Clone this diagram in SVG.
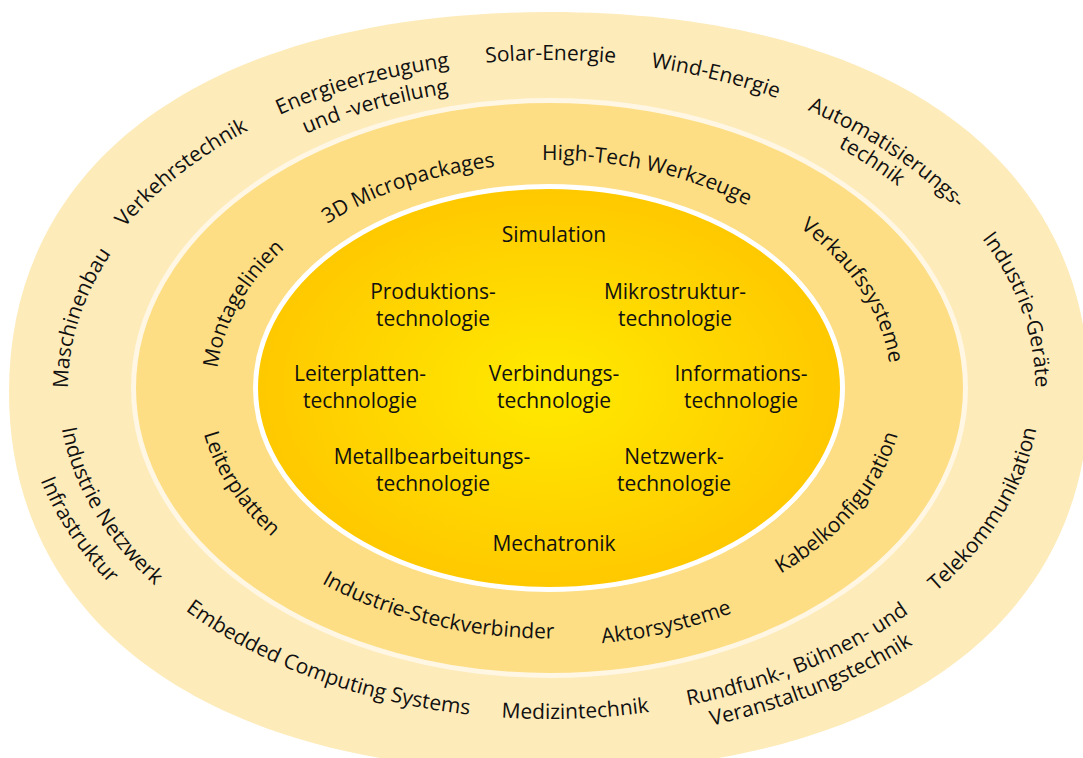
<svg xmlns="http://www.w3.org/2000/svg" width="1083" height="758" viewBox="0 0 1083 758">
<style>
text { font-family: "Open Sans", "Liberation Sans", sans-serif; font-size: 21px; font-weight: 500; fill: #111111; }
.c { text-anchor: middle; }
.band-outer { fill: #FEEBBA; }
.band-mid { fill: #FDDE85; stroke: #FFF7E3; stroke-width: 5; }
.core { fill: url(#core); stroke: #FFFFFF; stroke-width: 5; }
</style>
<defs>
<radialGradient id="core" gradientUnits="userSpaceOnUse" cx="549" cy="388" r="296" gradientTransform="translate(549 388) scale(1 0.69) translate(-549 -388)">
<stop offset="0" stop-color="#FFEA00"/>
<stop offset="1" stop-color="#FFC800"/>
</radialGradient>
<path id="p1" d="M70.71,422.35 A481,324.3 0 0 1 132.11,226.24"/>
<path id="p2" d="M97.67,265.71 A486.4,328 0 0 1 290.44,110.18"/>
<path id="p3" d="M229.27,140.83 A486.4,328 0 0 1 505.85,61.29"/>
<path id="p4" d="M253.07,160.89 A448.3,302.3 0 0 1 507.59,86.99"/>
<path id="p5" d="M424.75,70.88 A486.4,328 0 0 1 676.53,71.47"/>
<path id="p6" d="M593.85,61.40 A486.4,328 0 0 1 830.01,120.28"/>
<path id="p7" d="M769.96,95.79 A486.4,328 0 0 1 982.46,239.18"/>
<path id="p8" d="M796.31,127.03 A459.3,309.7 0 0 1 932.33,217.39"/>
<path id="p9" d="M956.12,208.51 A486.4,328 0 0 1 1031.96,426.95"/>
<path id="p10" d="M448.25,711.96 A491,331 0 0 0 702.01,702.52"/>
<path id="p11" d="M156.74,587.09 A491,331 0 0 0 505.95,717.73"/>
<path id="p12" d="M652.67,711.54 A491,331 0 0 0 936.92,590.91"/>
<path id="p13" d="M653.24,735.97 A526.5,355 0 0 0 960.61,609.36"/>
<path id="p14" d="M902.90,617.44 A491,331 0 0 0 1040,387.31"/>
<path id="p15" d="M58.06,382.92 A491,331 0 0 0 190.59,614.24"/>
<path id="p16" d="M24.96,422.27 A526.5,355 0 0 0 155.04,623.51"/>
<path id="p17" d="M216.85,402.29 A332.8,229.5 0 0 1 311.33,227.35"/>
<path id="p18" d="M296.95,246.41 A325.1,224.2 0 0 1 532.89,164.08"/>
<path id="p19" d="M504.53,162.07 A330.6,228 0 0 1 779.77,224.74"/>
<path id="p20" d="M778.91,213.08 A342.3,236.1 0 0 1 891.3,388.78"/>
<path id="p21" d="M197.74,394.81 A351.4,242.4 0 0 0 303.15,561.19"/>
<path id="p22" d="M290.62,563.88 A363,250.4 0 0 0 590.85,636.73"/>
<path id="p23" d="M555.98,645.86 A373.9,257.9 0 0 0 774.45,593.74"/>
<path id="p24" d="M751.44,589.34 A355.3,245 0 0 0 903.72,401.97"/>
</defs>
<rect width="1083" height="758" fill="#FFFFFF"/>
<g id="ring-outer">
<path class="band-outer" d="M9,392 C9,156.4 214.2,12 549,12 C883.8,12 1089,156.4 1089,392 C1089,627.6 883.8,772 549,772 C214.2,772 9,627.6 9,392 Z"/>
</g>
<g id="ring-middle">
<ellipse class="band-mid" cx="549.5" cy="388" rx="416" ry="287.5"/>
</g>
<g id="ring-core">
<ellipse class="core" cx="549" cy="388" rx="293.5" ry="201.5"/>
</g>
<g id="outer-labels">
<g id="maschinenbau"><text><textPath href="#p1" startOffset="50%" class="c">Maschinenbau</textPath></text></g>
<g id="verkehrstechnik"><text><textPath href="#p2" startOffset="50%" class="c">Verkehrstechnik</textPath></text></g>
<g id="energie"><text><textPath href="#p3" startOffset="50%" class="c">Energieerzeugung</textPath></text><text><textPath href="#p4" startOffset="50%" class="c">und -verteilung</textPath></text></g>
<g id="solar"><text><textPath href="#p5" startOffset="50%" class="c">Solar-Energie</textPath></text></g>
<g id="wind"><text><textPath href="#p6" startOffset="50%" class="c">Wind-Energie</textPath></text></g>
<g id="automatisierung"><text><textPath href="#p7" startOffset="50%" class="c">Automatisierungs-</textPath></text><text><textPath href="#p8" startOffset="50%" class="c">technik</textPath></text></g>
<g id="industrie-geraete"><text><textPath href="#p9" startOffset="50%" class="c">Industrie-Geräte</textPath></text></g>
<g id="medizintechnik"><text><textPath href="#p10" startOffset="50%" class="c">Medizintechnik</textPath></text></g>
<g id="embedded"><text><textPath href="#p11" startOffset="50%" class="c">Embedded Computing Systems</textPath></text></g>
<g id="rundfunk"><text><textPath href="#p12" startOffset="50%" class="c">Rundfunk-, Bühnen- und</textPath></text><text><textPath href="#p13" startOffset="50%" class="c">Veranstaltungstechnik</textPath></text></g>
<g id="telekommunikation"><text><textPath href="#p14" startOffset="50%" class="c">Telekommunikation</textPath></text></g>
<g id="industrie-netzwerk"><text><textPath href="#p15" startOffset="50%" class="c">Industrie Netzwerk</textPath></text><text><textPath href="#p16" startOffset="50%" class="c">Infrastruktur</textPath></text></g>
</g>
<g id="middle-labels">
<g id="montagelinien"><text><textPath href="#p17" startOffset="50%" class="c">Montagelinien</textPath></text></g>
<g id="micropackages"><text><textPath href="#p18" startOffset="50%" class="c">3D Micropackages</textPath></text></g>
<g id="werkzeuge"><text><textPath href="#p19" startOffset="50%" class="c">High-Tech Werkzeuge</textPath></text></g>
<g id="verkaufssysteme"><text><textPath href="#p20" startOffset="50%" class="c">Verkaufssysteme</textPath></text></g>
<g id="leiterplatten"><text><textPath href="#p21" startOffset="50%" class="c">Leiterplatten</textPath></text></g>
<g id="steckverbinder"><text><textPath href="#p22" startOffset="50%" class="c">Industrie-Steckverbinder</textPath></text></g>
<g id="aktorsysteme"><text><textPath href="#p23" startOffset="50%" class="c">Aktorsysteme</textPath></text></g>
<g id="kabelkonfiguration"><text><textPath href="#p24" startOffset="50%" class="c">Kabelkonfiguration</textPath></text></g>
</g>
<g id="core-labels">
<g id="simulation"><text class="c" x="554" y="242">Simulation</text></g>
<g id="produktion"><text class="c" x="433" y="299">Produktions-</text><text class="c" x="433" y="326">technologie</text></g>
<g id="mikrostruktur"><text class="c" x="675" y="299">Mikrostruktur-</text><text class="c" x="675" y="326">technologie</text></g>
<g id="leiterplatten-tech"><text class="c" x="360" y="381">Leiterplatten-</text><text class="c" x="360" y="408">technologie</text></g>
<g id="verbindung"><text class="c" x="554" y="381">Verbindungs-</text><text class="c" x="554" y="408">technologie</text></g>
<g id="information"><text class="c" x="741" y="381">Informations-</text><text class="c" x="741" y="408">technologie</text></g>
<g id="metall"><text class="c" x="432" y="464">Metallbearbeitungs-</text><text class="c" x="433" y="491">technologie</text></g>
<g id="netzwerk"><text class="c" x="674" y="464">Netzwerk-</text><text class="c" x="674" y="491">technologie</text></g>
<g id="mechatronik"><text class="c" x="554" y="551">Mechatronik</text></g>
</g>
</svg>
